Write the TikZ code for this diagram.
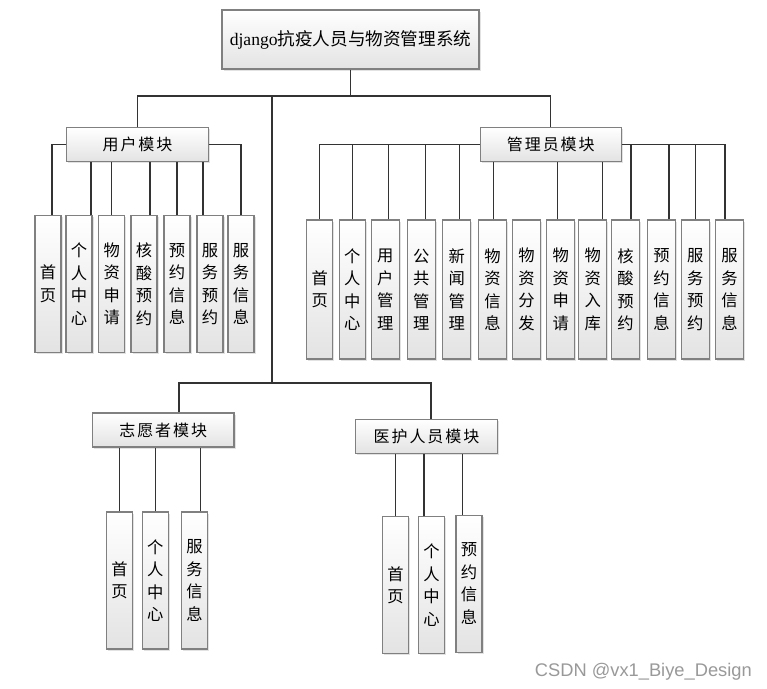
\documentclass[tikz,border=0pt]{standalone}
\usepackage{fontspec}
\setmainfont{Liberation Serif}
\newfontfamily\cjk{Noto Sans CJK SC}
\newfontfamily\cjkls[LetterSpace=12]{Noto Sans CJK SC}
\newfontfamily\wmfont{Liberation Sans}
\usetikzlibrary{shadows}
\tikzset{
  boxbase/.style={draw=black!50, line width=1.1pt, top color=white, bottom color=black!11,
    drop shadow={shadow xshift=1.6pt, shadow yshift=-1.6pt, fill=black!22}, inner sep=0pt},
  titlebox/.style={boxbase, minimum width=257pt, minimum height=59pt, font=\fontsize{17.6}{20}\selectfont},
  modbox/.style={boxbase, minimum width=141.5pt, minimum height=34pt, font=\cjkls\fontsize{16}{19}\selectfont},
  leaf/.style={boxbase, minimum width=26pt, minimum height=137pt, font=\cjk\fontsize{16.3}{22.5}\selectfont, align=center},
  leafw/.style={leaf, minimum width=28pt, minimum height=139pt},
  conn/.style={draw=black!80, line width=1.2pt},
}
\begin{document}
\begin{tikzpicture}[x=1pt,y=-1pt]
\useasboundingbox[fill=white] (0,0) rectangle (767,688);

% root and modules
\node[titlebox] (top) at (350.5,39.5) {django\cjk 抗疫人员与物资管理系统};
\node[modbox] (user)  at (137.5,144.8) {用户模块};
\node[modbox] (admin) at (550.8,144.3) {管理员模块};
\node[modbox] (vol)   at (163.2,430)   {志愿者模块};
\node[modbox] (med)   at (426.5,436.3) {医护人员模块};

% user leaves
\node[leaf] (u1) at (48,284)    {首\\页};
\node[leaf] (u2) at (79,284)    {个\\人\\中\\心};
\node[leaf] (u3) at (111.7,284) {物\\资\\申\\请};
\node[leaf] (u4) at (144,284)   {核\\酸\\预\\约};
\node[leaf] (u5) at (177,284)   {预\\约\\信\\息};
\node[leaf] (u6) at (210,284)   {服\\务\\预\\约};
\node[leaf] (u7) at (241,284)   {服\\务\\信\\息};

% admin leaves
\node[leafw, minimum width=26pt] (a1) at (319.7,289.5) {首\\页};
\node[leafw, minimum width=26pt] (a2) at (352.2,289.5) {个\\人\\中\\心};
\node[leafw] (a3)  at (385.2,289.5) {用\\户\\管\\理};
\node[leafw] (a4)  at (421.2,289.5) {公\\共\\管\\理};
\node[leafw] (a5)  at (456.8,289.5) {新\\闻\\管\\理};
\node[leafw] (a6)  at (492.5,289.5) {物\\资\\信\\息};
\node[leafw] (a7)  at (526.5,289.5) {物\\资\\分\\发};
\node[leafw] (a8)  at (560.8,289.5) {物\\资\\申\\请};
\node[leafw] (a9)  at (592.8,289.5) {物\\资\\入\\库};
\node[leafw] (a10) at (625.5,289.5) {核\\酸\\预\\约};
\node[leafw] (a11) at (661.5,289.5) {预\\约\\信\\息};
\node[leafw] (a12) at (695.2,289.5) {服\\务\\预\\约};
\node[leafw] (a13) at (729.5,289.5) {服\\务\\信\\息};

% volunteer leaves
\node[leaf] (v1) at (119.5,580.5) {首\\页};
\node[leaf] (v2) at (155.2,580.5) {个\\人\\中\\心};
\node[leaf] (v3) at (194.5,580.5) {服\\务\\信\\息};

% medical leaves
\node[leaf] (m1) at (395.5,585.3) {首\\页};
\node[leaf] (m2) at (431.5,585.3) {个\\人\\中\\心};
\node[leaf] (m3) at (469,583.7)   {预\\约\\信\\息};

% trunk
\coordinate (hb) at (272,96);
\coordinate (vb) at (272,383);
\coordinate (vl) at (179,383);
\coordinate (vr) at (431,383);
\draw[conn] (top.south) -- (top.south |- hb);
\draw[conn] (user.north) -- (user.north |- hb) -- (admin.north |- hb) -- (admin.north);
\draw[conn] (hb) -- (vb);
\draw[conn] (vl |- vol.north) -- (vl) -- (vr) -- (vr |- med.north);

% user connectors
\draw[conn] (user.west) -| ([xshift=4pt]u1.north);
\draw[conn] (user.east) -| (u7.north);
\foreach \n/\s in {u2/12,u3/0,u4/6,u5/0,u6/-7}{
  \path (\n.north) ++(\s,0) coordinate (t);
  \draw[conn] (t) -- (t |- user.south);
}

% admin connectors
\draw[conn] (admin.west) -| (a1.north);
\foreach \n/\s in {a2/0,a3/3,a4/4.5,a5/3}{
  \path (\n.north) ++(\s,0) coordinate (t);
  \draw[conn] (t) -- (t |- admin.west);
}
\foreach \n/\s in {a6/1,a8/-3,a9/9.5}{
  \path (\n.north) ++(\s,0) coordinate (t);
  \draw[conn] (t) -- (t |- admin.south);
}
\draw[conn] (admin.east) -| ([xshift=-4.5pt]a13.north);
\foreach \n/\s in {a10/5.5,a11/7.5,a12/0}{
  \path (\n.north) ++(\s,0) coordinate (t);
  \draw[conn] (t) -- (t |- admin.east);
}

% volunteer connectors
\foreach \n/\s in {v1/0,v2/0,v3/6}{
  \path (\n.north) ++(\s,0) coordinate (t);
  \draw[conn] (t) -- (t |- vol.south);
}
% medical connectors
\foreach \n/\s in {m1/0,m2/-7.5,m3/-6.7}{
  \path (\n.north) ++(\s,0) coordinate (t);
  \draw[conn] (t) -- (t |- med.south);
}

% watermark
\node[anchor=base east, inner sep=0pt, text=black!40, font=\wmfont\fontsize{18.3}{20}\selectfont] (wm) at (752,676) {CSDN @vx1\_Biye\_Design};
\end{tikzpicture}
\end{document}
